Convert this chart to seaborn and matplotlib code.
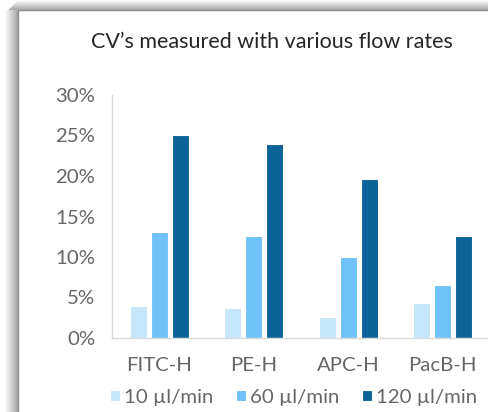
import pandas as pd
import matplotlib
matplotlib.use('Agg')
import matplotlib.pyplot as plt
import seaborn as sns
from matplotlib.ticker import PercentFormatter
from matplotlib.patches import Rectangle

channels = ['FITC-H', 'PE-H', 'APC-H', 'PacB-H']
flow_rates = ['10 µl/min', '60 µl/min', '120 µl/min']
cv_10 = [0.039, 0.037, 0.026, 0.043]
cv_60 = [0.131, 0.126, 0.100, 0.066]
cv_120 = [0.251, 0.240, 0.196, 0.126]
colors = ['#c6e6fb', '#6fc2f8', '#0b6399']

df = pd.DataFrame({
    'channel': channels * 3,
    'flow': [flow_rates[0]] * 4 + [flow_rates[1]] * 4 + [flow_rates[2]] * 4,
    'cv': cv_10 + cv_60 + cv_120,
})

sns.set_style('white')
plt.rcParams['font.family'] = ['Lato', 'DejaVu Sans']

W, H = 488, 412
fig = plt.figure(figsize=(W / 100, H / 100), dpi=100)

# panel shadow on the left and top edges (pixel units)
for i in range(13):
    a = 0.015 + 0.028 * i
    fig.patches.append(Rectangle(((5 + i) / W, 0), 1 / W, (H - 10) / H,
                                 transform=fig.transFigure, color='k', alpha=a, lw=0, zorder=-2))
for j in range(10):
    a = 0.02 + 0.035 * j
    fig.patches.append(Rectangle(((18 - j) / W, (H - 1 - j) / H), 1, 1 / H,
                                 transform=fig.transFigure, color='k', alpha=a, lw=0, zorder=-2))
fig.patches.append(Rectangle((18 / W, -0.01), 1, (H - 10) / H + 0.01, transform=fig.transFigure,
                             facecolor='white', edgecolor='#8f8f8f', lw=1.0, zorder=-1))

ax = fig.add_axes([112 / W, 1 - 338 / H, 378 / W, 243 / H])
ax.set_facecolor('none')
sns.barplot(data=df, x='channel', y='cv', hue='flow', palette=colors, ax=ax, saturation=1,
            width=0.667, gap=0.19, edgecolor='white', linewidth=0.8)

ax.set_ylim(0, 0.30)
ax.set_xlim(-0.5, 3.5)
ax.set_yticks([0, 0.05, 0.10, 0.15, 0.20, 0.25, 0.30])
ax.yaxis.set_major_formatter(PercentFormatter(1.0, decimals=0))
ax.set_xlabel('')
ax.set_ylabel('')
ax.tick_params(length=0, labelsize=14.7, colors='#666666')
ax.tick_params(axis='y', pad=12)
ax.tick_params(axis='x', pad=14)
for s in ['top', 'right']:
    ax.spines[s].set_visible(False)
for s in ['left', 'bottom']:
    ax.spines[s].set_color('#d9d9d9')
    ax.spines[s].set_linewidth(1.0)

ax.get_legend().remove()
handles, labels = ax.get_legend_handles_labels()
fig.legend(handles, labels, loc='center', bbox_to_anchor=(0.602, 0.036), ncol=3,
           frameon=False, fontsize=14.7, labelcolor='#666666', handlelength=0.5,
           handleheight=0.5, handletextpad=0.2, columnspacing=1.1)

fig.text(0.557, 0.898, 'CV’s measured with various flow rates', ha='center', va='center',
         fontsize=15.5, color='#262626')

fig.savefig('out.png', dpi=100)
